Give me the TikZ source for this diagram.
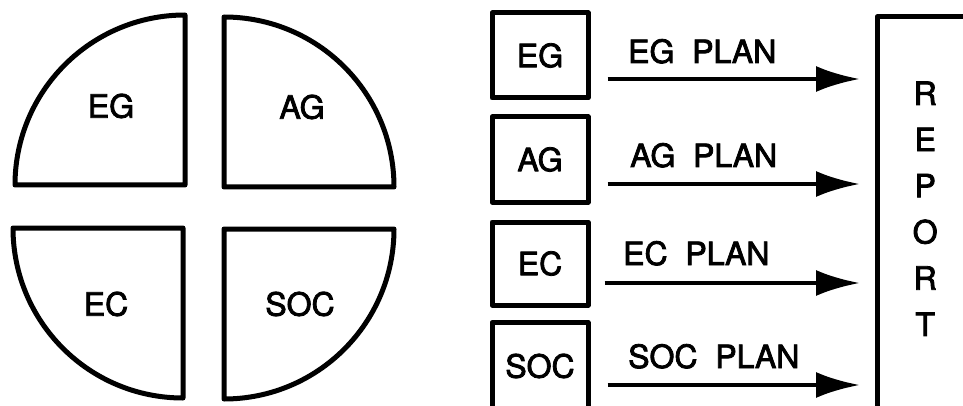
\documentclass[tikz,border=0pt]{standalone}
\usepackage{fontspec}
\setmainfont{TeX Gyre Heros}
\newfontfamily\heavyfont{TeX Gyre Heros}[FakeBold=2.5]
\usetikzlibrary{arrows.meta}
\begin{document}
\begin{tikzpicture}[x=1pt,y=1pt,
  quarter/.style={draw, line width=5pt, line join=round},
  lbl/.style={font=\heavyfont\fontsize{32}{38}\selectfont, inner sep=0pt},
  srcbox/.style={draw, line width=5pt, line join=round, minimum width=96pt, minimum height=85pt, inner sep=0pt, font=\heavyfont\fontsize{32}{38}\selectfont},
  arr/.style={line width=4.5pt, -{Latex[length=44pt,width=26pt]}, shorten <=17pt, shorten >=17pt},
  frame/.style={line width=5pt, line join=round},
]
\useasboundingbox (0,0) rectangle (963,-406);
\fill[white] (0,0) rectangle (963,-406);
\clip (0,0) rectangle (963,-406);

% quarter circles
\draw[quarter] (185,-185) -- (15,-185) arc[start angle=180, end angle=90, radius=170pt] -- cycle;
\draw[quarter] (224,-187) -- (224,-17) arc[start angle=90, end angle=0, radius=170pt] -- cycle;
\draw[quarter] (183,-228) -- (13,-228) arc[start angle=180, end angle=270, radius=170pt] -- cycle;
\draw[quarter] (224,-229) -- (394,-229) arc[start angle=0, end angle=-90, radius=170pt] -- cycle;
\node[lbl] (qEG) at (111,-106) {EG};
\node[lbl] (qAG) at (302,-107) {AG};
\node[lbl] (qEC) at (106,-304) {EC};
\node[lbl] (qSOC) at (300,-304) {SOC};

% source boxes
\node[srcbox] (bEG) at (540,-55.5) {EG};
\node[srcbox] (bAG) at (540,-159.5) {AG};
\node[srcbox, minimum height=83pt] (bEC) at (540,-263.5) {EC};
\node[srcbox, minimum height=87pt] (bSOC) at (540,-366) {SOC};

% report
\node[minimum width=96pt, minimum height=383pt, inner sep=0pt, anchor=north west,
      align=center, font=\heavyfont\fontsize{32}{46.2}\selectfont] (REP) at (877,-17) {R\\E\\P\\O\\R\\T};
\draw[frame] ([xshift=30pt]REP.north east) -- (REP.north west) -- ([yshift=-30pt]REP.south west);

% arrows
\coordinate (y1) at (0,-79);
\coordinate (y2) at (0,-184);
\coordinate (y3) at (0,-283);
\coordinate (y4) at (0,-385);
\draw[arr] (bEG.east |- y1) -- (REP.west |- y1);
\draw[arr] (bAG.east |- y2) -- (REP.west |- y2);
\draw[arr, shorten <=14pt] (bEC.east |- y3) -- (REP.west |- y3);
\draw[arr] (bSOC.east |- y4) -- (REP.west |- y4);

% arrow labels
\node[lbl, anchor=base west] (pEG) at (628,-63) {EG~~PLAN};
\node[lbl, anchor=base west] (pAG) at (630,-167) {AG~~PLAN};
\node[lbl, anchor=base west] (pEC) at (623,-265) {EC~~PLAN};
\node[lbl, anchor=base west] (pSOC) at (628,-368) {SOC~~PLAN};
\end{tikzpicture}
\end{document}
